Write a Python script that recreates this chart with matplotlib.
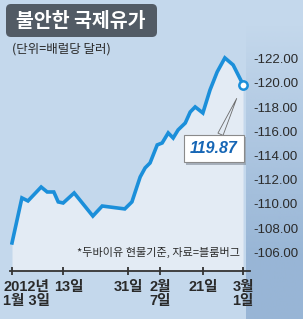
import matplotlib
matplotlib.use('Agg')
import matplotlib.pyplot as plt
import numpy as np
from matplotlib.patches import FancyBboxPatch
import matplotlib.patheffects as pe
import matplotlib.transforms as mtransforms
from matplotlib import font_manager

# ---------------- data ----------------
day_pos = [0, 1.8, 2.9, 5.3, 6.4, 7.6, 8.4, 9.3, 11.3, 14.7,
           16.4, 20.5, 21.8, 23.3, 24.2, 25.1, 26.4, 27.3, 28.4, 29.3,
           30.2, 31.5, 32.4, 33.3, 34.7, 36.0, 37.3, 38.7, 40.2, 42]
prices = [106.78, 110.50, 110.25, 111.40, 110.99, 110.99, 110.17, 110.08, 110.91, 109.00,
          109.83, 109.59, 110.17, 112.23, 112.98, 113.39, 114.88, 115.04, 115.87, 115.45,
          116.12, 116.69, 117.60, 118.02, 117.52, 119.42, 120.91, 122.07, 121.49, 119.87]
x_tick_pos = [0, 9.3, 21.1, 26.9, 34.7, 42]
x_tick_labels = ['2012년\n1월 3일', '13일', '31일', '2월\n7일', '21일', '3월\n1일']
y_ticks = [106, 108, 110, 112, 114, 116, 118, 120, 122]
title = '불안한 국제유가'
subtitle = '(단위=배럴당 달러)'
note = '*두바이유 현물기준, 자료=블룸버그'

# ---------------- style ----------------
BG = '#c4d8ec'
FILL = '#e3ebf4'
STRIP = '#96b4d5'
LINE = '#1b8fda'
TITLE_BG = '#525b65'
TXT = '#2a2a2a'

available = {f.name for f in font_manager.fontManager.ttflist}
NARROW = 'Liberation Sans Narrow' if 'Liberation Sans Narrow' in available else 'Liberation Sans'
KR = 'Noto Sans CJK KR'

W, H = 303, 319
fig = plt.figure(figsize=(W / 100, H / 100), dpi=100)
fig.patch.set_facecolor(BG)

# decoration axes in pixel coordinates
deco = fig.add_axes([0, 0, 1, 1], zorder=0)
deco.axis('off')

# right gradient strip
yy = np.linspace(0, H, 320)
alpha = np.clip((yy - 25) / 230, 0, 1) * 0.95
rgba = np.zeros((len(yy), 1, 4))
rgb = matplotlib.colors.to_rgb(STRIP)
rgba[:, 0, 0], rgba[:, 0, 1], rgba[:, 0, 2] = rgb
rgba[:, 0, 3] = alpha
deco.imshow(rgba, extent=(246, W, H, 0), aspect='auto', interpolation='bilinear')
deco.set_xlim(0, W)
deco.set_ylim(H, 0)

# title box
deco.add_patch(FancyBboxPatch((6, 4), 151, 33, boxstyle='round,pad=0,rounding_size=5',
                              fc=TITLE_BG, ec='none'))
deco.text(81, 21, title, ha='center', va='center', color='white', fontsize=14,
          fontweight='bold', family=[KR])
deco.text(12, 49, subtitle, ha='left', va='center', color=TXT, fontsize=9, family=[KR])

# ---------------- main chart ----------------
ax = fig.add_axes([10 / W, 48 / H, 240 / W, 231 / H], zorder=2)
ax.patch.set_alpha(0)
ymin, ymax = 104.46, 123.55
ax.set_xlim(-0.364, 43.27)
ax.set_ylim(ymin, ymax)

ax.fill_between(day_pos, prices, ymin, color=FILL, lw=0, zorder=1)
ax.plot(day_pos, prices, color=LINE, lw=2.6, solid_joinstyle='miter', zorder=3)
ax.plot(day_pos[-1], prices[-1], 'o', ms=6, mfc='white', mec=LINE, mew=1.8, zorder=4)

ax.text(0.958, 0.082, note, transform=ax.transAxes, ha='right', va='center',
        fontsize=8, color=TXT, family=[KR], zorder=2)

for s in ['top', 'left', 'right']:
    ax.spines[s].set_visible(False)
ax.spines['bottom'].set_color('#333333')
ax.spines['bottom'].set_linewidth(1.3)

ax.set_xticks(x_tick_pos, x_tick_labels)
ax.tick_params(axis='x', direction='inout', length=6, width=1.3, color='#333333',
               pad=3.5, labelsize=10.5, labelcolor=TXT)
xlabels = ax.get_xticklabels()
for lab in xlabels:
    lab.set_fontweight('bold')
    lab.set_family([NARROW, KR])
    lab.set_linespacing(1.0)
    lab.set_multialignment('center')
xlabels[0].set_ha('left')
xlabels[0].set_multialignment('left')
xlabels[0].set_transform(xlabels[0].get_transform() +
                         mtransforms.ScaledTranslation(-9 / 100, 0, fig.dpi_scale_trans))
xlabels[1].set_transform(xlabels[1].get_transform() +
                         mtransforms.ScaledTranslation(6 / 100, 0, fig.dpi_scale_trans))

ax.yaxis.tick_right()
ax.set_yticks(y_ticks, [f'-{v:.2f}' for v in y_ticks])
ax.tick_params(axis='y', length=0, pad=2.2, labelsize=9.5, labelcolor=TXT)
for lab in ax.get_yticklabels():
    lab.set_family([NARROW, KR])

ann = ax.annotate(f'{prices[-1]:.2f}', xy=(day_pos[-1], prices[-1]),
                  xytext=(-29, -64), textcoords='offset pixels',
                  ha='center', va='center', fontsize=11.5, fontweight='bold',
                  fontstyle='italic', color='#1666b5', family=[NARROW],
                  bbox=dict(boxstyle='square,pad=0.4', fc='white', ec='#8a8a8a', lw=0.8),
                  arrowprops=dict(arrowstyle='wedge,tail_width=0.35,shrink_factor=0.5',
                                  fc=FILL, ec='#6a6a6a', lw=0.6, shrinkA=0, shrinkB=11),
                  zorder=5)
ann.get_bbox_patch().set_path_effects([
    pe.SimplePatchShadow(offset=(1.5, -1.5), shadow_rgbFace='#7f8a96', alpha=0.6),
    pe.Normal()])

fig.savefig('out.png', dpi=100, facecolor=fig.get_facecolor())
